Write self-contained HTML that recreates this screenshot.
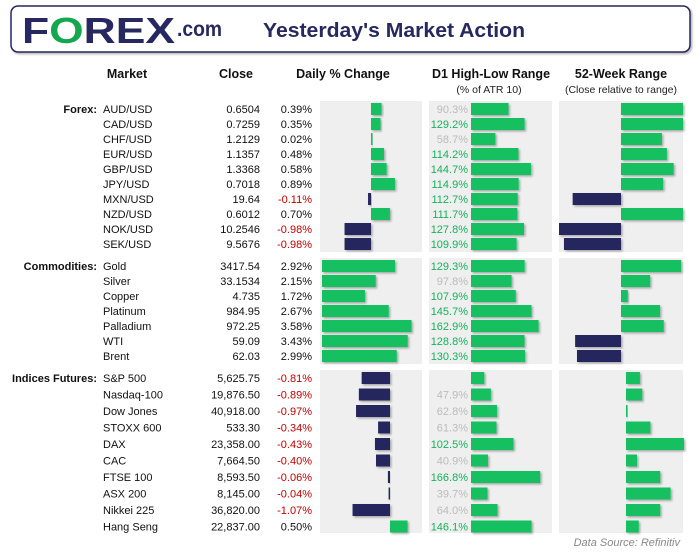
<!DOCTYPE html>
<html><head><meta charset="utf-8">
<style>
body{margin:0;width:700px;height:553px;background:#fff;font-family:"Liberation Sans",sans-serif;overflow:hidden}
svg{position:absolute;left:0;top:0}
</style></head>
<body>
<svg id="c" width="700" height="553">
<defs><filter id="sh" x="-10%" y="-30%" width="130%" height="180%"><feDropShadow dx="1.5" dy="1.5" stdDeviation="1" flood-color="#000" flood-opacity="0.3"/></filter></defs>
<rect x="11" y="6" width="679" height="46" rx="7" fill="#fff" stroke="#26285f" stroke-width="1.5" filter="url(#sh)"/>
<text x="22" y="43" font-size="36" font-weight="bold" fill="#26285f" textLength="153" lengthAdjust="spacingAndGlyphs">F<tspan fill="#13a74f">O</tspan>REX</text>
<text x="177" y="36" font-size="21" font-weight="bold" fill="#26285f" textLength="45" lengthAdjust="spacingAndGlyphs">.com</text>
<text x="263" y="37" font-size="20" font-weight="bold" fill="#26285f" textLength="262" lengthAdjust="spacingAndGlyphs">Yesterday's Market Action</text>
<g font-size="12.5" font-weight="bold" fill="#111" text-anchor="middle">
<text x="127" y="78">Market</text>
<text x="236" y="78">Close</text>
<text x="343" y="78">Daily % Change</text>
<text x="491" y="78">D1 High-Low Range</text>
<text x="621" y="78">52-Week Range</text>
</g>
<g font-size="10.5" fill="#222" text-anchor="middle">
<text x="489" y="93">(% of ATR 10)</text>
<text x="621" y="93">(Close relative to range)</text>
</g>
<text x="680" y="546" font-size="11" font-style="italic" fill="#888" text-anchor="end">Data Source: Refinitiv</text>
<g id="rows"></g>
</svg>
<script>
const forexNames=["AUD/USD","CAD/USD","CHF/USD","EUR/USD","GBP/USD","JPY/USD","MXN/USD","NZD/USD","NOK/USD","SEK/USD"];
const forexClose=["0.6504","0.7259","1.2129","1.1357","1.3368","0.7018","19.64","0.6012","10.2546","9.5676"];
const forexChange=[0.39,0.35,0.02,0.48,0.58,0.89,-0.11,0.70,-0.98,-0.98];
const forexD1=[90.3,129.2,58.7,114.2,144.7,114.9,112.7,111.7,127.8,109.9];
const forex52=[100,100,66,74,85,68,-78,100,-100,-92];
const commNames=["Gold","Silver","Copper","Platinum","Palladium","WTI","Brent"];
const commClose=["3417.54","33.1534","4.735","984.95","972.25","59.09","62.03"];
const commChange=[2.92,2.15,1.72,2.67,3.58,3.43,2.99];
const commD1=[129.3,97.8,107.9,145.7,162.9,128.8,130.3];
const comm52=[97,47,11,63,69,-74,-71];
const idxNames=["S&P 500","Nasdaq-100","Dow Jones","STOXX 600","DAX","CAC","FTSE 100","ASX 200","Nikkei 225","Hang Seng"];
const idxClose=["5,625.75","19,876.50","40,918.00","533.30","23,358.00","7,664.50","8,593.50","8,145.00","36,820.00","22,837.00"];
const idxChange=[-0.81,-0.89,-0.97,-0.34,-0.43,-0.40,-0.06,-0.04,-1.07,0.50];
const idxD1=[null,47.9,62.8,61.3,102.5,40.9,166.8,39.7,64.0,146.1];
const idx52=[24,28,2,42,100,19,59,77,59,22];

const sections=[
 {label:"Forex:",names:forexNames,close:forexClose,chg:forexChange,d1:forexD1,w52:forex52,top:101,bot:252,y0:109,step:15,chgZero:371,chgScale:27,wZero:621,wScale:0.62},
 {label:"Commodities:",names:commNames,close:commClose,chg:commChange,d1:commD1,w52:comm52,top:258,bot:364,y0:266,step:15,chgZero:322,chgScale:25,wZero:621,wScale:0.62},
 {label:"Indices Futures:",names:idxNames,close:idxClose,chg:idxChange,d1:idxD1,w52:idx52,top:370,bot:533,y0:378,step:16.5,chgZero:390,chgScale:35,wZero:626,wScale:0.58}
];
const NS="http://www.w3.org/2000/svg";
const g=document.getElementById("rows");
function mk(tag,attrs,txt){const e=document.createElementNS(NS,tag);for(const k in attrs)e.setAttribute(k,attrs[k]);if(txt!=null)e.textContent=txt;g.appendChild(e);return e;}
const d1X=(v)=>471, d1W=(v)=>v*0.415;
sections.forEach((s,si)=>{
  const p1=mk("rect",{x:320,y:s.top,width:102,height:s.bot-s.top,fill:"#efefef"});
  
  
  const p2=mk("rect",{x:429,y:s.top,width:123,height:s.bot-s.top,fill:"#efefef"});
  
  
  const p3=mk("rect",{x:559,y:s.top,width:124,height:s.bot-s.top,fill:"#efefef"});
  
  
  const sl=mk("text",{x:97,y:s.y0+4,"font-size":"11","font-weight":"bold",fill:"#111","text-anchor":"end"},s.label);
  
  
  s.names.forEach((n,i)=>{
    const y=s.y0+i*s.step;
    const t1=mk("text",{x:103,y:y+4,"font-size":"11",fill:"#111"},n);
    
    
    const t2=mk("text",{x:260,y:y+4,"font-size":"11",fill:"#111","text-anchor":"end"},s.close[i]);
    
    
    const c=s.chg[i];
    const t3=mk("text",{x:312,y:y+4,"font-size":"11",fill:c<0?"#c00000":"#111","text-anchor":"end"},c.toFixed(2)+"%");
    
    
    const w=Math.abs(c)*s.chgScale;
    const b1=mk("rect",{x:c<0?s.chgZero-w:s.chgZero,y:y-6,width:Math.max(w,1.5),height:12,fill:c<0?"#26285f":"#13c060",filter:"url(#sh)"});
    
    
    const d=s.d1[i];
    if(d!=null){
      const t4=mk("text",{x:468,y:y+4,"font-size":"11",fill:d>=100?"#13b35a":"#bbbbbb","text-anchor":"end"},d.toFixed(1)+"%");
      
      
    }
    const dv=d==null?32:d;
    const b2=mk("rect",{x:d1X(dv),y:y-6,width:d1W(dv),height:12,fill:"#13c060",filter:"url(#sh)"});
    
    
    const v=s.w52[i], ww=Math.abs(v)*s.wScale;
    const b3=mk("rect",{x:v<0?s.wZero-ww:s.wZero,y:y-6,width:Math.max(ww,1.5),height:12,fill:v<0?"#26285f":"#13c060",filter:"url(#sh)"});
    
    
  });
});
</script>
</body></html>
